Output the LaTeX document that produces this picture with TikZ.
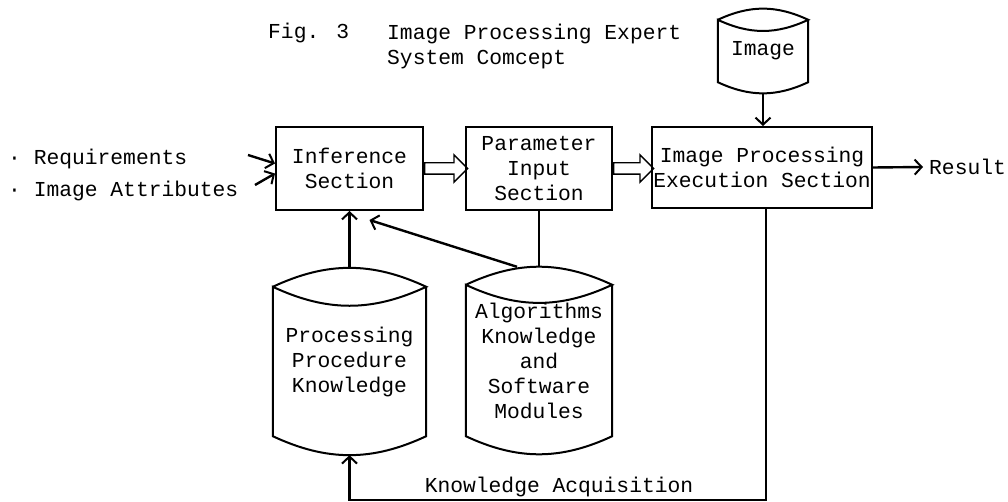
\documentclass[tikz,border=0pt]{standalone}
\usepackage{fontspec}
\setmainfont{Liberation Mono}
\usetikzlibrary{arrows.meta,shapes.arrows}

\begin{document}
\begin{tikzpicture}[x=1pt,y=1pt,
  font=\fontsize{21.3}{25}\selectfont,
  box/.style={draw,line width=2pt,align=center,inner sep=0pt},
  store/.style={align=center,inner sep=0pt},
  hollow/.style={single arrow,draw,line width=1.4pt,inner sep=5pt,
    single arrow head extend=8pt,anchor=tail},
  link/.style={line width=2.4pt,
    -{Straight Barb[length=7pt,width=15pt,line width=2pt]}}]
 \useasboundingbox (0,0) rectangle (1008,-502);
 % title
 \node[anchor=west,inner sep=0pt] (fig) at (268,-33) {Fig. 3};
 \node[anchor=west,align=left,inner sep=0pt] (title) at (387,-46)
   {Image Processing Expert\\System Comcept};
 % blocks
 \node[box,minimum width=147pt,minimum height=83pt] (inf)
   at (349.5,-168.5) {Inference\\Section};
 \node[box,minimum width=146pt,minimum height=83pt] (par)
   at (539,-168.5) {Parameter\\Input\\Section};
 \node[box,minimum width=220pt,minimum height=81pt] (exe)
   at (762,-167.5) {Image Processing\\Execution Section};
 \node[anchor=west,inner sep=0pt] (res) at (929,-167) {Result};
 \node[anchor=west,inner sep=0pt] (req) at (8,-159) {· Requirements};
 \node[anchor=west,inner sep=0pt] (att) at (8,-191) {· Image Attributes};
 % stores
 \node[store,minimum width=153pt,minimum height=149pt] (ppk)
   at (349.5,-361.5) {Processing\\Procedure\\Knowledge};
 \node[store,minimum width=146pt,minimum height=151pt] (akm)
   at (539,-360.5) {Algorithms\\Knowledge\\and\\Software\\Modules};
 \node[store,minimum width=90pt,minimum height=62pt] (img)
   at (763,-51) {Image};
 \foreach \n in {ppk,akm,img} {
   \draw[line width=2pt]
     (\n.north west) to[out=25,in=155] (\n.north east)
     to[out=-155,in=-25] (\n.north west) -- (\n.south west)
     to[out=-25,in=-155] (\n.south east) -- (\n.north east);
 }
 % connectors
 \node[hollow,minimum height=43pt] (h1) at (inf.east) {};
 \node[hollow,minimum height=40pt] (h2) at (par.east) {};
 \coordinate (r1) at (248,-155);
 \coordinate (r2) at (255,-185);
 \draw[link] (r1) -- ([yshift=5pt]inf.west);
 \draw[link] (r2) -- ([yshift=-5pt]inf.west);
 \draw[link] ([yshift=-11pt]img.south) -- (img.south |- exe.north);
 \draw[link] (exe.east) -- ([xshift=-6pt]res.west);
 \draw[link] ([yshift=19pt]ppk.north) -- (inf.south);
 \draw[line width=2.4pt] (par.south) -- ([yshift=18pt]akm.north);
 \draw[link] ([xshift=-22pt,yshift=18pt]akm.north)
   -- ([xshift=20pt,yshift=-9pt]inf.south);
 \draw[link] ([xshift=4pt]exe.south) |- ([yshift=-64pt]ppk.south)
   -- ([yshift=-19pt]ppk.south);
 \node (ka) at (559,-487) {Knowledge Acquisition};
\end{tikzpicture}
\end{document}
